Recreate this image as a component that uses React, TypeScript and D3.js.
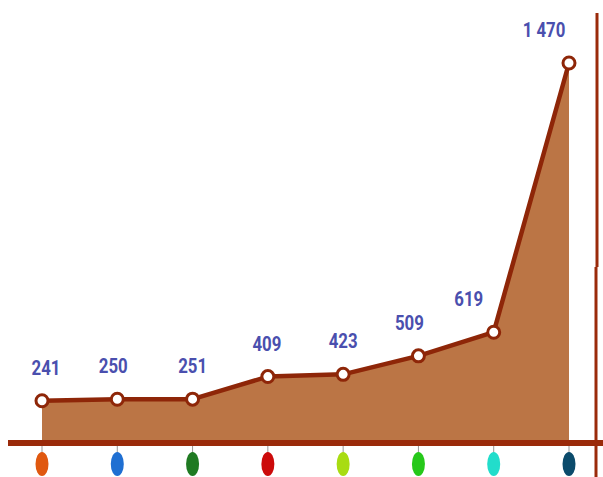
import React from "react";
import * as d3 from "d3";

const categories = ["A", "B", "C", "D", "E", "F", "G", "H"];
const values = [241, 250, 251, 409, 423, 509, 619, 1470];
const valueLabels = ["241", "250", "251", "409", "423", "509", "619", "1 470"];
const dotColors = ["#E0580F", "#1F6FD2", "#1F7A22", "#CC0A0A", "#A8DC12", "#26C81A", "#22DDCB", "#0B4B6B"];
const labelDx = [4, -4, 0, -1, 0, -9, -25, -25];

const W = 603;
const H = 477;
const baseY = 443;

export default function App() {
  const x = d3.scalePoint<string>().domain(categories).range([42, 569]);
  const y = d3.scaleLinear().domain([0, 245, 420, 620, 1470]).range([baseY, 400, 375, 332, 63]);

  const pts = values.map((v, i) => ({ cx: x(categories[i]) as number, cy: y(v), v, i }));
  const area = d3
    .area<{ cx: number; cy: number }>()
    .x((d) => d.cx)
    .y0(baseY)
    .y1((d) => d.cy);
  const line = d3
    .line<{ cx: number; cy: number }>()
    .x((d) => d.cx)
    .y((d) => d.cy);

  return (
    <svg
      width={W}
      height={H}
      style={{ position: "absolute", left: 0, top: 0, background: "#fff" }}
      fontFamily="Roboto, 'Liberation Sans', sans-serif"
    >
      <path d={area(pts) || ""} fill="#BB7545" />
      <path d={line(pts) || ""} fill="none" stroke="#8E2608" strokeWidth={4.5} strokeLinejoin="round" />
      {/* right vertical line */}
      <line x1={597} x2={597} y1={13} y2={267} stroke="#9A2A0A" strokeWidth={3} />
      <line x1={596} x2={596} y1={267} y2={H} stroke="#9A2A0A" strokeWidth={3} />
      {/* axis */}
      <line x1={8} x2={W} y1={baseY} y2={baseY} stroke="#9A2A0A" strokeWidth={6} />
      {pts.map((p) => (
        <g key={p.i}>
          <line x1={p.cx} x2={p.cx} y1={baseY + 3} y2={baseY + 10} stroke="#999" strokeWidth={1} />
          <ellipse cx={p.cx} cy={464} rx={6.5} ry={12} fill={dotColors[p.i]} />
          <circle cx={p.cx} cy={p.cy} r={6} fill="#fff" stroke="#8E2608" strokeWidth={3} />
          <text
            transform={`translate(${p.cx + labelDx[p.i]},${p.cy - 26}) scale(0.8,1)`}
            textAnchor="middle"
            fontSize={21}
            fontWeight="bold"
            fill="#4A4FAE"
          >
            {valueLabels[p.i]}
          </text>
        </g>
      ))}
    </svg>
  );
}
